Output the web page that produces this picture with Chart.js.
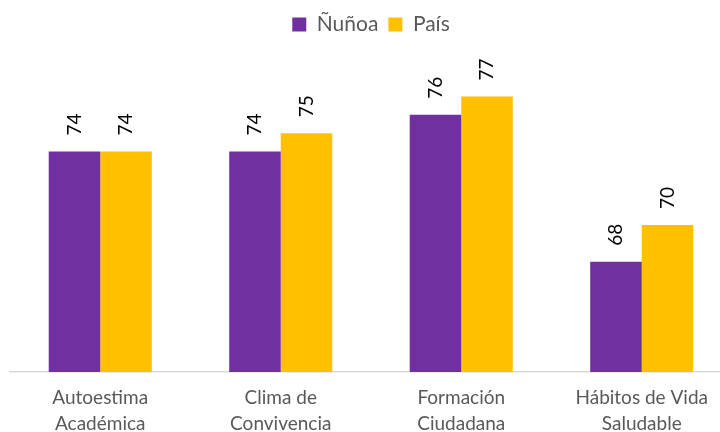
<!DOCTYPE html>
<html lang="es">
  <head>
    <meta charset="UTF-8" />
    <title>Ñuñoa vs País</title>
    <script src="https://cdn.jsdelivr.net/npm/chart.js"></script>
    <style>
      html, body {
        margin: 0;
        padding: 0;
        background: #ffffff;
        overflow: hidden;
      }
      #wrap {
        width: 742px;
        height: 442px;
      }
    </style>
  </head>
  <body>
    <div id="wrap">
      <canvas id="chart" width="742" height="442"></canvas>
    </div>

    <script>
      const categories = [
        ['Autoestima', 'Académica'],
        ['Clima de', 'Convivencia'],
        ['Formación', 'Ciudadana'],
        ['Hábitos de Vida', 'Saludable']
      ];
      const seriesNames = ['Ñuñoa', 'País'];
      const nunoa = [74, 74, 76, 68];
      const pais = [74, 75, 77, 70];

      // value labels drawn rotated above each bar
      const rotatedLabels = {
        id: 'rotatedLabels',
        afterDatasetsDraw(chart) {
          const ctx = chart.ctx;
          ctx.save();
          ctx.font = '19px Lato, sans-serif';
          ctx.fillStyle = '#000000';
          ctx.textAlign = 'left';
          ctx.textBaseline = 'middle';
          chart.data.datasets.forEach((ds, i) => {
            chart.getDatasetMeta(i).data.forEach((bar, j) => {
              ctx.save();
              ctx.translate(bar.x, bar.y - 16);
              ctx.rotate(-Math.PI / 2);
              ctx.fillText(String(ds.data[j]), 0, 0);
              ctx.restore();
            });
          });
          ctx.restore();
        }
      };

      new Chart(document.getElementById('chart'), {
        type: 'bar',
        data: {
          labels: categories,
          datasets: [
            { label: seriesNames[0], data: nunoa, backgroundColor: '#7030A0' },
            { label: seriesNames[1], data: pais, backgroundColor: '#FFC000' }
          ]
        },
        options: {
          responsive: false,
          animation: false,
          categoryPercentage: 0.571,
          barPercentage: 1,
          layout: { padding: { left: 10, right: 10, top: 4, bottom: 0 } },
          plugins: {
            legend: {
              position: 'top',
              labels: {
                boxWidth: 14,
                boxHeight: 14,
                padding: 10,
                color: '#595959',
                font: { family: 'Lato, sans-serif', size: 21 }
              }
            },
            tooltip: { enabled: false }
          },
          scales: {
            x: {
              grid: { display: false },
              border: { display: true, color: '#d9d9d9', width: 1.5 },
              ticks: {
                color: '#595959',
                padding: 5,
                maxRotation: 0,
                font: { family: 'Lato, sans-serif', size: 19, lineHeight: 1.37 }
              }
            },
            y: {
              display: false,
              min: 62,
              max: 79.8
            }
          }
        },
        plugins: [rotatedLabels]
      });
    </script>
  </body>
</html>
